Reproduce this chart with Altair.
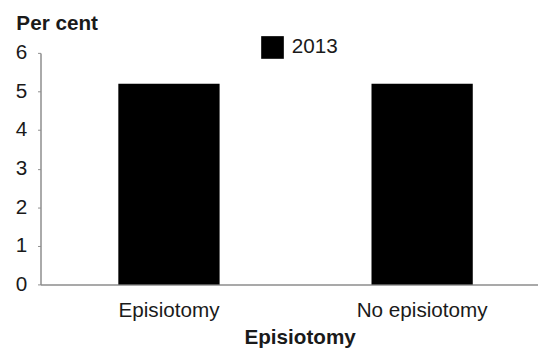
import altair as alt
import pandas as pd

categories = ["Episiotomy", "No episiotomy"]
values = [5.2, 5.2]
series = ["2013", "2013"]
y_ticks = [0, 1, 2, 3, 4, 5, 6]

df = pd.DataFrame({"category": categories, "value": values, "series": series})

FONT = "Liberation Sans"
TXT = "#1a1a1a"
AXC = "#8c8c8c"
FS = 21

chart = alt.Chart(df).mark_bar(color="#000000").encode(
    x=alt.X(
        "category:N",
        sort=categories,
        scale=alt.Scale(paddingInner=0.6, paddingOuter=0.2825, align=0.544),
        axis=alt.Axis(
            title="Episiotomy",
            labelAngle=0,
            ticks=False,
            labelPadding=16,
            labelFontSize=FS,
            labelColor=TXT,
            labelFont=FONT,
            domainColor=AXC,
            domainWidth=1.5,
            titleFont=FONT,
            titleFontSize=FS,
            titleFontWeight="bold",
            titleColor=TXT,
            titleX=263,
            titleY=60,
            titleAlign="center",
            titleBaseline="alphabetic",
        ),
    ),
    y=alt.Y(
        "value:Q",
        scale=alt.Scale(domain=[0, 6], nice=False),
        axis=alt.Axis(
            values=y_ticks,
            title="Per cent",
            titleAngle=0,
            titleAlign="left",
            titleBaseline="alphabetic",
            titleX=-25,
            titleY=-24,
            titleFont=FONT,
            titleFontSize=FS,
            titleFontWeight="bold",
            titleColor=TXT,
            grid=False,
            tickSize=3,
            tickColor=AXC,
            domainColor=AXC,
            domainWidth=1.5,
            labelPadding=11,
            labelFontSize=FS,
            labelFont=FONT,
            labelColor=TXT,
        ),
    ),
    color=alt.Color(
        "series:N",
        scale=alt.Scale(range=["#000000"]),
        legend=alt.Legend(
            title=None,
            orient="none",
            legendX=224,
            legendY=-17,
            symbolType="square",
            symbolSize=529,
            symbolStrokeWidth=0,
            symbolOpacity=1,
            labelFontSize=FS,
            labelFont=FONT,
            labelColor=TXT,
            labelOffset=8,
            padding=0,
        ),
    ),
).properties(
    width=505,
    height=235,
    padding={"left": 33, "top": 43, "right": 0, "bottom": 63},
    autosize=alt.AutoSizeParams(type="none"),
).configure_view(stroke=None)

chart.save("out.html", embed_options={"renderer": "svg", "actions": False})
